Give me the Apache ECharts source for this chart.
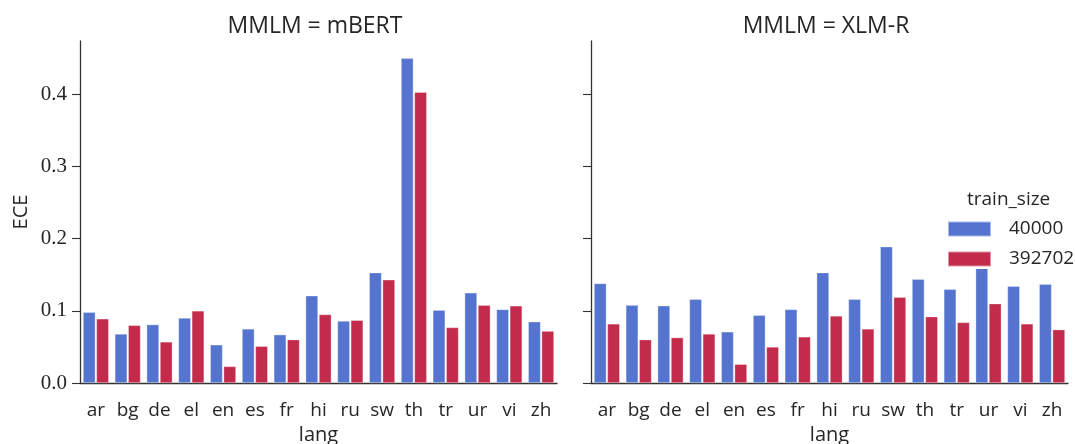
<!DOCTYPE html>
<html><head><meta charset="utf-8">
<script src="https://cdn.jsdelivr.net/npm/echarts@6/dist/echarts.min.js"></script>
<style>html,body{margin:0;padding:0;background:#fff}#c{width:1075px;height:444px}</style>
</head><body><div id="c"></div>
<script>
const langs = ['ar','bg','de','el','en','es','fr','hi','ru','sw','th','tr','ur','vi','zh'];
const panels = ['MMLM = mBERT','MMLM = XLM-R'];
const sizes = ['40000','392702'];
const yTicks = [0, 0.1, 0.2, 0.3, 0.4];
// mBERT
const mbert40000  = [0.098,0.068,0.081,0.090,0.053,0.075,0.067,0.121,0.086,0.153,0.450,0.101,0.125,0.102,0.085];
const mbert392702 = [0.089,0.080,0.057,0.100,0.023,0.051,0.060,0.095,0.087,0.143,0.403,0.077,0.108,0.107,0.072];
// XLM-R
const xlmr40000  = [0.138,0.108,0.107,0.116,0.071,0.094,0.102,0.153,0.116,0.189,0.144,0.130,0.160,0.134,0.137];
const xlmr392702 = [0.082,0.060,0.063,0.068,0.026,0.050,0.064,0.093,0.075,0.119,0.092,0.084,0.110,0.082,0.074];

const BLUE = '#5574d0', RED = '#c32b4c', TXT = '#262626';
const SANS = 'Open Sans', SERIF = 'Liberation Serif';
const grids = [
  {left: 80, right: 518, top: 41, bottom: 61, containLabel:false, outerBoundsMode:'none'},
  {left: 591, right: 7, top: 41, bottom: 61, containLabel:false, outerBoundsMode:'none'}
];
function xAx(i){
  return {type:'category', gridIndex:i, data:langs,
    name:'lang', nameLocation:'middle', nameGap:38,
    nameTextStyle:{fontFamily:SANS, fontSize:20, color:TXT},
    axisLine:{lineStyle:{color:'#333', width:1.3}},
    axisTick:{alignWithLabel:true, length:8, lineStyle:{color:'#333', width:1.1}},
    axisLabel:{fontFamily:SANS, fontSize:19, color:TXT, margin:18}};
}
function yAx(i){
  return {type:'value', gridIndex:i, min:0, max:0.474, interval:0.1,
    name: i===0 ? 'ECE' : '', nameLocation:'middle', nameGap:49,
    nameTextStyle:{fontFamily:SANS, fontSize:20, color:TXT},
    splitLine:{show:false},
    axisLine:{show:true, lineStyle:{color:'#333', width:1.3}},
    axisTick:{show:true, length:8, customValues:yTicks, lineStyle:{color:'#333', width:1.1}},
    axisLabel:{show:i===0, customValues:yTicks, fontFamily:SERIF, fontSize:21, color:TXT, margin:13,
      padding:[5,0,0,0], formatter:v=>v.toFixed(1)}};
}
function bar(name, data, i, color){
  return {type:'bar', name, data, xAxisIndex:i, yAxisIndex:i,
    barGap:'8%', barCategoryGap:'19%',
    itemStyle:{color, borderColor:'rgba(255,255,255,0.5)', borderWidth:0.6}, z:2};
}
const chart = echarts.init(document.getElementById('c'));
chart.setOption({
  animation:false,
  backgroundColor:'#fff',
  title: panels.map((t,i)=>({text:t, left: i===0 ? 310 : 821, top: 10, textAlign:'center',
    textStyle:{fontFamily:SANS, fontSize:23, fontWeight:'normal', color:TXT}})),
  grid: grids,
  xAxis:[xAx(0), xAx(1)],
  yAxis:[yAx(0), yAx(1)],
  legend:{orient:'vertical', left:940, top:183, itemWidth:43, itemHeight:15, itemGap:10,
    data:sizes, icon:'rect', backgroundColor:'#fff', padding:[36,30,0,7],
    textStyle:{fontFamily:SANS, fontSize:19, color:TXT, padding:[0,0,0,13], lineHeight:20}},
  graphic:[{type:'text', left:967, top:190, z:100,
    style:{text:'train_size', font:'19px "Open Sans"', fill:TXT}}],
  series:[
    bar(sizes[0], mbert40000, 0, BLUE), bar(sizes[1], mbert392702, 0, RED),
    bar(sizes[0], xlmr40000, 1, BLUE), bar(sizes[1], xlmr392702, 1, RED)
  ]
});
</script></body></html>
